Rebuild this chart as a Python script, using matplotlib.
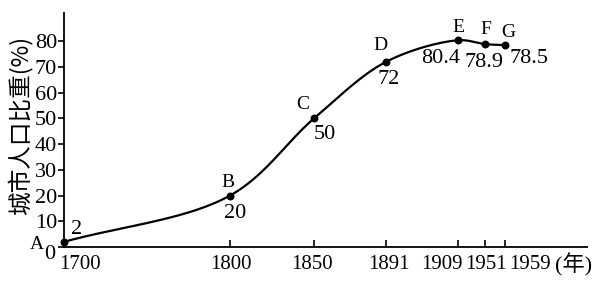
"""
城市人口比重变化曲线 (1700-1959)
"""
import numpy as np
import matplotlib
matplotlib.use("Agg")
import matplotlib.pyplot as plt
from matplotlib.transforms import ScaledTranslation

years = ["1700", "1800", "1850", "1891", "1909", "1951", "1959"]
xpos = [0, 166, 250, 322, 394, 421, 441]   # 横轴不是等比例的，按原图位置
share = [2, 20, 50, 72, 80.4, 78.9, 78.5]
point_names = ["A", "B", "C", "D", "E", "F", "G"]
value_labels = ["2", "20", "50", "72", "80.4", "78.9", "78.5"]

# 标注偏移 (像素): 字母, 数值
name_off = [(-27, -3), (-2, 13), (-11, 14), (-6, 16), (0, 13), (1, 15), (3, 13)]
val_off = [(13, 12), (5, -18), (11, -16), (3, -18), (-17, -18), (-1, -18), (24, -13)]
tick_dx = [16, 1, -2, 3, -16, 1, 25]

FONT = ["Liberation Serif", "Noto Sans CJK SC"]
plt.rcParams["font.family"] = FONT


def catmull_rom(px, py, n=40, alpha=0.5):
    """centripetal Catmull-Rom，穿过所有点的平滑曲线"""
    P = np.column_stack([px, py]).astype(float)
    P = np.vstack([2 * P[0] - P[1], P, 2 * P[-1] - P[-2]])
    out = []
    for i in range(1, len(P) - 2):
        p0, p1, p2, p3 = P[i - 1], P[i], P[i + 1], P[i + 2]
        t0 = 0.0
        t1 = t0 + np.linalg.norm(p1 - p0) ** alpha
        t2 = t1 + np.linalg.norm(p2 - p1) ** alpha
        t3 = t2 + np.linalg.norm(p3 - p2) ** alpha
        t = np.linspace(t1, t2, n)[:, None]
        a1 = (t1 - t) / (t1 - t0) * p0 + (t - t0) / (t1 - t0) * p1
        a2 = (t2 - t) / (t2 - t1) * p1 + (t - t1) / (t2 - t1) * p2
        a3 = (t3 - t) / (t3 - t2) * p2 + (t - t2) / (t3 - t2) * p3
        b1 = (t2 - t) / (t2 - t0) * a1 + (t - t0) / (t2 - t0) * a2
        b2 = (t3 - t) / (t3 - t1) * a2 + (t - t1) / (t3 - t1) * a3
        c = (t2 - t) / (t2 - t1) * b1 + (t - t1) / (t2 - t1) * b2
        out.append(c if i == 1 else c[1:])
    return np.vstack(out)


fig = plt.figure(figsize=(5.93, 2.86), dpi=100)
ax = fig.add_axes([64 / 593, 1 - 247 / 286, 523 / 593, 234 / 286])

yscale = 2.57  # 像素/百分点，让曲线按画面比例平滑
curve = catmull_rom(xpos, np.array(share) * yscale)
ax.plot(curve[:, 0], curve[:, 1] / yscale, color="black", lw=1.6,
        solid_capstyle="round", clip_on=False)
ax.scatter(xpos, share, s=22, color="black", zorder=3, clip_on=False)

for x, y, nm, vl, no, vo in zip(xpos, share, point_names, value_labels,
                                name_off, val_off):
    ax.annotate(nm, (x, y), xytext=no, textcoords="offset pixels",
                ha="center", va="center", fontsize=14)
    ax.annotate(vl, (x, y), xytext=vo, textcoords="offset pixels",
                ha="center", va="center", fontsize=16)

ax.set_xlim(0, 523)
ax.set_ylim(0, 91)
for s in ["top", "right"]:
    ax.spines[s].set_visible(False)
for s in ["left", "bottom"]:
    ax.spines[s].set_linewidth(1.3)

ax.set_yticks(range(0, 81, 10))
ax.set_yticklabels([str(v) for v in range(0, 81, 10)], fontsize=16)
ax.tick_params(axis="y", direction="out", length=4, width=1.2, pad=1)
ax.set_xticks(xpos)
ax.set_xticklabels(years, fontsize=15)
ax.tick_params(axis="x", direction="in", length=5, width=1.2, pad=6)
for lab, dx in zip(ax.get_xticklabels(), tick_dx):
    lab.set_transform(lab.get_transform() +
                      ScaledTranslation(dx / 100, 0, fig.dpi_scale_trans))
ylab0 = ax.get_yticklabels()[0]
ylab0.set_transform(ylab0.get_transform() +
                    ScaledTranslation(-2 / 100, -5 / 100, fig.dpi_scale_trans))

fig.text(0.999, 1 - 265 / 286, "(年)", ha="right", va="center", fontsize=16)
fig.text(21 / 593, 1 - 125 / 286, "城市人口比重(%)", rotation=90,
         ha="center", va="center", fontsize=17,
         family=["Noto Sans CJK SC", "Liberation Serif"])

fig.savefig("out.png", dpi=100)
